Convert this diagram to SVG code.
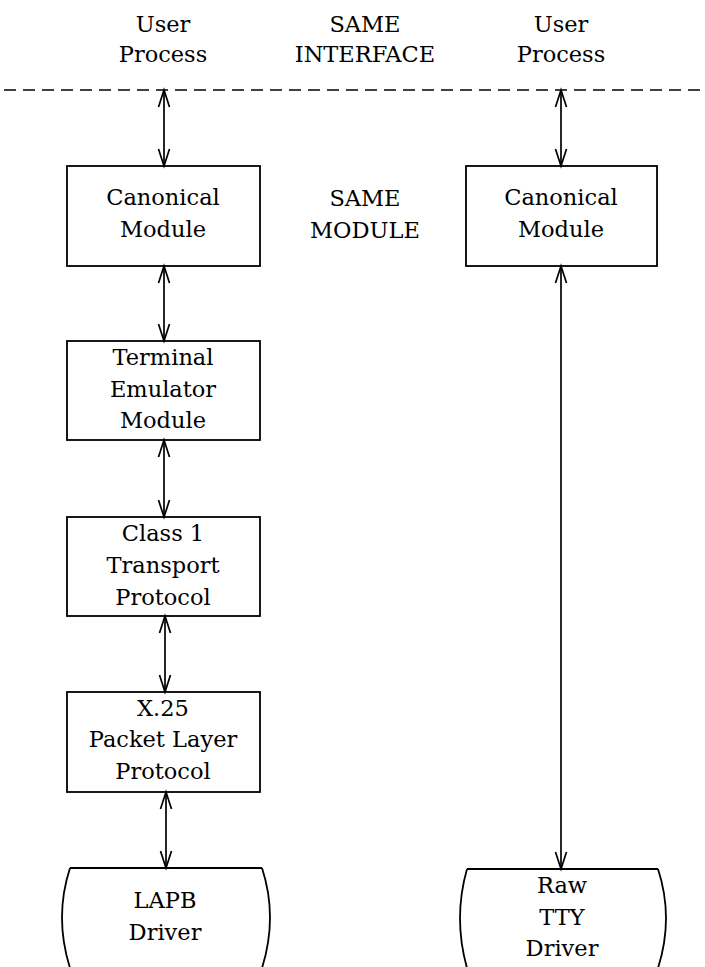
<svg xmlns="http://www.w3.org/2000/svg" width="705" height="967" viewBox="0 0 705 967">
<defs>
<style>
text{font-family:"DejaVu Serif","Liberation Serif",serif;font-size:22.5px;fill:#000;text-anchor:middle}
.box{fill:#fff;stroke:#000;stroke-width:1.8}
.drv{fill:none;stroke:#000;stroke-width:1.8}
.conn{stroke:#000;stroke-width:1.7;fill:none;marker-start:url(#ah);marker-end:url(#ah)}
.dash{stroke:#000;stroke-width:1.7;stroke-dasharray:12 7}
</style>
<marker id="ah" markerUnits="userSpaceOnUse" markerWidth="24" markerHeight="16" viewBox="-20 -8 24 16" refX="0" refY="0" orient="auto-start-reverse">
<path d="M-17,-5.5 L0,0 L-17,5.5" fill="none" stroke="#000" stroke-width="1.7"/>
</marker>
</defs>
<rect width="705" height="967" fill="#fff"/>

<g id="labels">
<text x="163" y="32">User</text>
<text x="163" y="62">Process</text>
<text x="365" y="32">SAME</text>
<text x="365" y="62">INTERFACE</text>
<text x="561" y="32">User</text>
<text x="561" y="62">Process</text>
<text x="365" y="206">SAME</text>
<text x="365" y="238">MODULE</text>
</g>

<line class="dash" x1="4" y1="90" x2="705" y2="90"/>

<g id="canon-left">
<rect class="box" x="67" y="166" width="193" height="100"/>
<text x="163" y="205">Canonical</text>
<text x="163" y="237">Module</text>
</g>
<g id="terminal">
<rect class="box" x="67" y="341" width="193" height="99"/>
<text x="163" y="365">Terminal</text>
<text x="163" y="397">Emulator</text>
<text x="163" y="428">Module</text>
</g>
<g id="class1">
<rect class="box" x="67" y="517" width="193" height="99"/>
<text x="163" y="541">Class 1</text>
<text x="163" y="573">Transport</text>
<text x="163" y="605">Protocol</text>
</g>
<g id="x25">
<rect class="box" x="67" y="692" width="193" height="100"/>
<text x="163" y="716">X.25</text>
<text x="163" y="747">Packet Layer</text>
<text x="163" y="779">Protocol</text>
</g>
<g id="lapb">
<path class="drv" d="M70,868 L262,868 M70,868 Q54,917 70,968 M262,868 Q278,917 262,968"/>
<text x="165" y="908">LAPB</text>
<text x="165" y="940">Driver</text>
</g>
<g id="canon-right">
<rect class="box" x="466" y="166" width="191" height="100"/>
<text x="561" y="205">Canonical</text>
<text x="561" y="237">Module</text>
</g>
<g id="rawtty">
<path class="drv" d="M467,869 L658,869 M467,869 Q453,918 467,968 M658,869 Q674,918 658,968"/>
<text x="562" y="893">Raw</text>
<text x="562" y="925">TTY</text>
<text x="562" y="956">Driver</text>
</g>

<g id="connectors">
<line class="conn" x1="164" y1="90" x2="164" y2="166"/>
<line class="conn" x1="164" y1="266" x2="164" y2="341"/>
<line class="conn" x1="164" y1="440" x2="164" y2="517"/>
<line class="conn" x1="165" y1="616" x2="165" y2="692"/>
<line class="conn" x1="166" y1="792" x2="166" y2="868"/>
<line class="conn" x1="561" y1="90" x2="561" y2="166"/>
<line class="conn" x1="561" y1="266" x2="561" y2="869"/>
</g>
</svg>
